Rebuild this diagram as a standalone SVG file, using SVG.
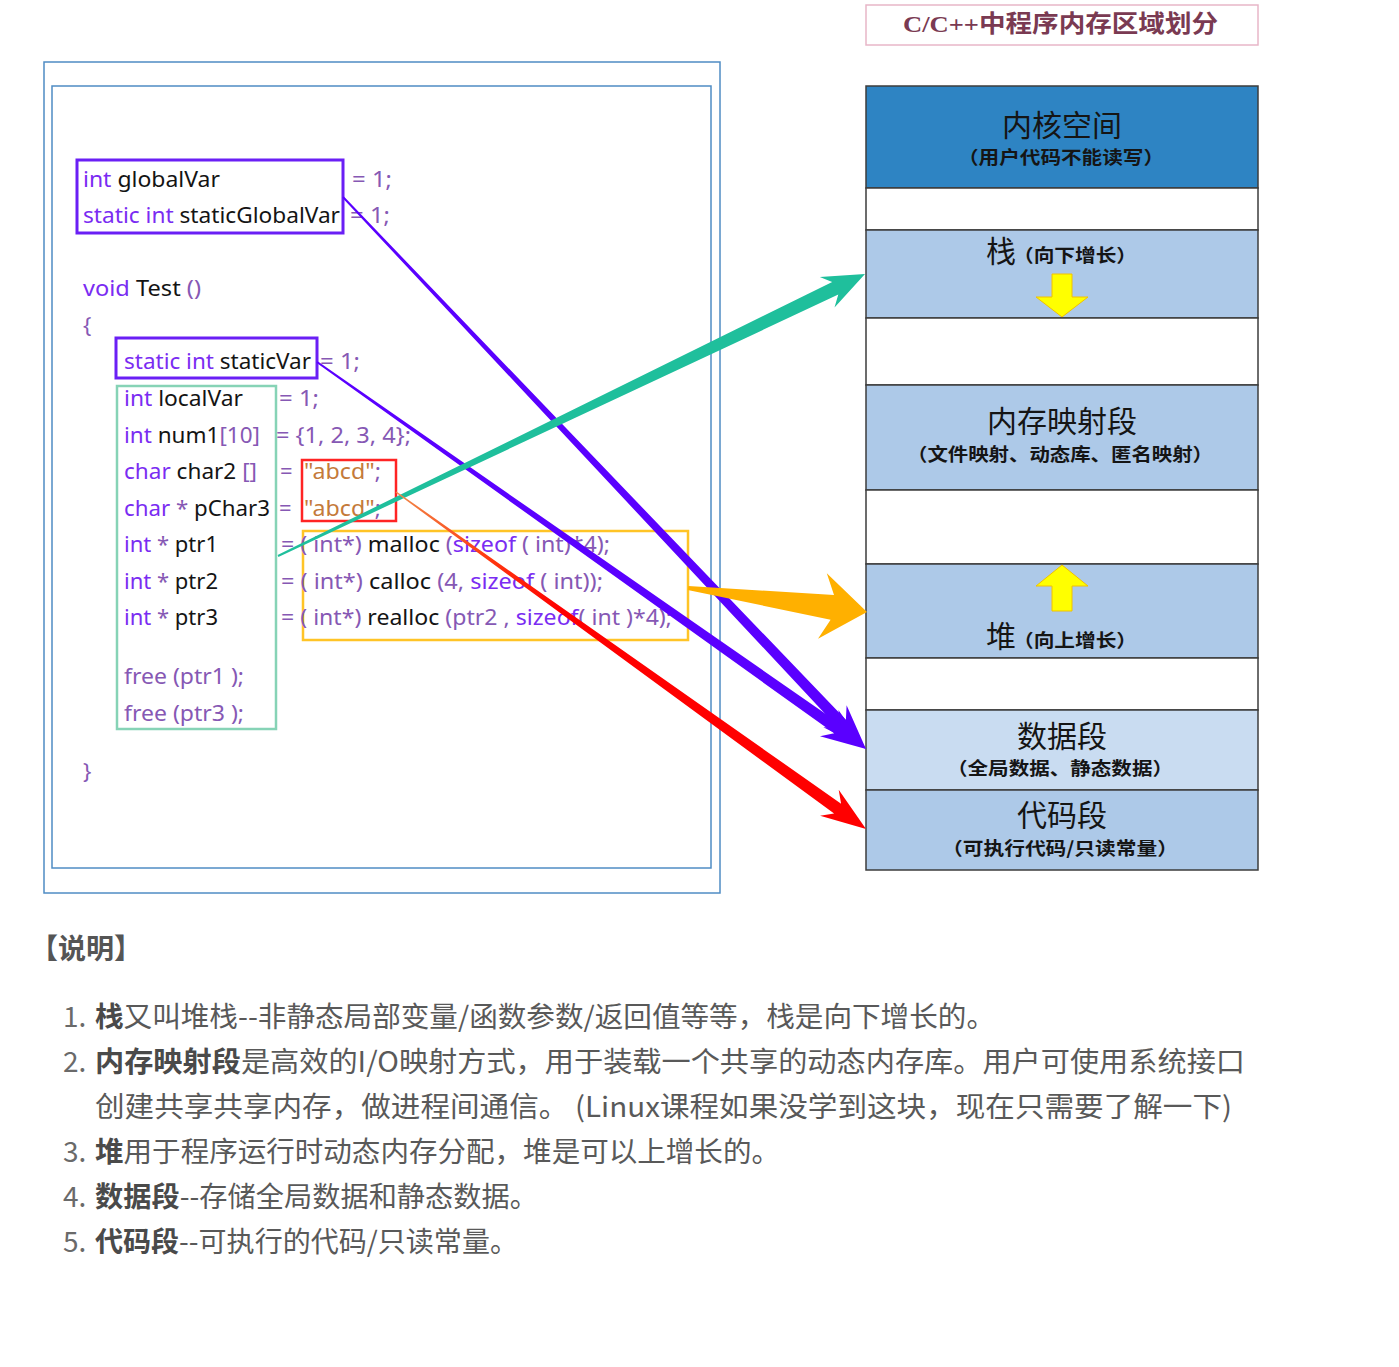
<svg xmlns="http://www.w3.org/2000/svg" width="1399" height="1367" viewBox="0 0 1399 1367">
<defs>
<style>
.frame{fill:none;stroke:#4f8cc4;stroke-width:1.5}
.code{font-family:"Noto Sans","Open Sans","Liberation Sans",sans-serif;font-size:22px;fill:#8658b4}
.kw{fill:#7a2cf2}
.id{fill:#141414}
.str{fill:#c47a3a}
.seg{stroke:#3d3d3d;stroke-width:1.5}
.big{font-family:"Noto Sans CJK SC","Noto Sans",sans-serif;font-size:30px;fill:#151515;text-anchor:middle}
.sub{font-family:"Noto Sans CJK SC","Noto Sans",sans-serif;font-size:18px;font-weight:bold;fill:#151515}
.note{font-family:"Noto Sans CJK SC","Noto Sans",sans-serif;font-size:28px;fill:#595959}
.num{fill:#6a6a6a}
.b{font-weight:bold;fill:#4a4a4a}
.yarrow{fill:#ffff00;stroke:#f2c200;stroke-width:1}
</style>
<linearGradient id="redgrad" gradientUnits="userSpaceOnUse" x1="396" y1="492" x2="560" y2="610">
<stop offset="0" stop-color="#f08a4a"/>
<stop offset="0.55" stop-color="#ff3a10"/>
<stop offset="1" stop-color="#ff0000"/>
</linearGradient>
</defs>
<rect width="1399" height="1367" fill="#ffffff"/>

<!-- title -->
<g id="title">
<rect x="866" y="5" width="392" height="40" fill="#ffffff" stroke="#e8b6c8" stroke-width="1.5"/>
<text x="903" y="32" textLength="315" lengthAdjust="spacingAndGlyphs" style="font-family:'Liberation Serif','Noto Sans CJK SC',serif;font-size:24px;font-weight:bold;fill:#7a3a52">C/C++中程序内存区域划分</text>
</g>

<!-- code frame -->
<g id="code-frame">
<rect class="frame" x="44" y="62" width="676" height="831"/>
<rect class="frame" x="52" y="86" width="659" height="782"/>
</g>

<g id="code-boxes">
<rect x="77" y="160" width="266" height="73" fill="none" stroke="#6a1ff5" stroke-width="3"/>
<rect x="116" y="338" width="201" height="40" fill="none" stroke="#6a1ff5" stroke-width="3"/>
<rect x="117" y="386" width="159" height="343" fill="none" stroke="#86d3b6" stroke-width="2.5"/>
<rect x="302" y="460" width="94" height="61" fill="none" stroke="#ff2424" stroke-width="2.5"/>
<rect x="303" y="531" width="385" height="109" fill="none" stroke="#ffc426" stroke-width="2.5"/>
</g>

<g id="code-text" class="code">
<text x="83" y="187" textLength="137" lengthAdjust="spacingAndGlyphs"><tspan class="kw">int</tspan> <tspan class="id">globalVar</tspan></text>
<text x="83" y="223" textLength="257" lengthAdjust="spacingAndGlyphs"><tspan class="kw">static int</tspan> <tspan class="id">staticGlobalVar</tspan></text>
<text x="352" y="187" textLength="40" lengthAdjust="spacingAndGlyphs">= 1;</text>
<text x="350" y="223" textLength="40" lengthAdjust="spacingAndGlyphs">= 1;</text>
<text x="83" y="296" textLength="118" lengthAdjust="spacingAndGlyphs"><tspan class="kw">void</tspan> <tspan class="id">Test</tspan> ()</text>
<text x="83" y="333">{</text>
<text x="124" y="369" textLength="187" lengthAdjust="spacingAndGlyphs"><tspan class="kw">static int</tspan> <tspan class="id">staticVar</tspan></text>
<text x="320" y="369" textLength="40" lengthAdjust="spacingAndGlyphs">= 1;</text>
<text x="124" y="406" textLength="119" lengthAdjust="spacingAndGlyphs"><tspan class="kw">int</tspan> <tspan class="id">localVar</tspan></text>
<text x="279" y="406" textLength="40" lengthAdjust="spacingAndGlyphs">= 1;</text>
<text x="124" y="443" textLength="136" lengthAdjust="spacingAndGlyphs"><tspan class="kw">int</tspan> <tspan class="id">num1</tspan>[10]</text>
<text x="276" y="443" textLength="135" lengthAdjust="spacingAndGlyphs">= {1, 2, 3, 4};</text>
<text x="124" y="479" textLength="133" lengthAdjust="spacingAndGlyphs"><tspan class="kw">char</tspan> <tspan class="id">char2</tspan> []</text>
<text x="280" y="479">=</text>
<text x="304" y="479" textLength="77" lengthAdjust="spacingAndGlyphs"><tspan class="str">"abcd"</tspan>;</text>
<text x="124" y="516" textLength="146" lengthAdjust="spacingAndGlyphs"><tspan class="kw">char</tspan> * <tspan class="id">pChar3</tspan></text>
<text x="279" y="516">=</text>
<text x="304" y="516" textLength="77" lengthAdjust="spacingAndGlyphs"><tspan class="str">"abcd"</tspan>;</text>
<text x="124" y="552" textLength="94" lengthAdjust="spacingAndGlyphs"><tspan class="kw">int</tspan> * <tspan class="id">ptr1</tspan></text>
<text x="281" y="552" textLength="329" lengthAdjust="spacingAndGlyphs">= ( int*) <tspan class="id">malloc</tspan> (<tspan class="kw">sizeof</tspan> ( int)*4);</text>
<text x="124" y="589" textLength="94" lengthAdjust="spacingAndGlyphs"><tspan class="kw">int</tspan> * <tspan class="id">ptr2</tspan></text>
<text x="281" y="589" textLength="322" lengthAdjust="spacingAndGlyphs">= ( int*) <tspan class="id">calloc</tspan> (4, <tspan class="kw">sizeof</tspan> ( int));</text>
<text x="124" y="625" textLength="94" lengthAdjust="spacingAndGlyphs"><tspan class="kw">int</tspan> * <tspan class="id">ptr3</tspan></text>
<text x="281" y="625" textLength="391" lengthAdjust="spacingAndGlyphs">= ( int*) <tspan class="id">realloc</tspan> (ptr2 , <tspan class="kw">sizeof</tspan>( int )*4);</text>
<text x="124" y="684" textLength="120" lengthAdjust="spacingAndGlyphs">free (ptr1 );</text>
<text x="124" y="721" textLength="120" lengthAdjust="spacingAndGlyphs">free (ptr3 );</text>
<text x="83" y="779">}</text>
</g>

<!-- memory layout column -->
<g id="seg-kernel">
<rect class="seg" x="866" y="86" width="392" height="102" fill="#2e84c3"/>
<text class="big" x="1062" y="136">内核空间</text>
<text class="sub" x="958" y="164" textLength="206" lengthAdjust="spacingAndGlyphs">（用户代码不能读写）</text>
</g>
<g id="gap1"><rect class="seg" x="866" y="188" width="392" height="42" fill="#ffffff"/></g>
<g id="seg-stack">
<rect class="seg" x="866" y="230" width="392" height="88" fill="#adc9e8"/>
<text class="big" x="1001" y="262">栈</text>
<text class="sub" x="1013" y="262" textLength="124" lengthAdjust="spacingAndGlyphs">（向下增长）</text>
<polygon class="yarrow" points="1052,274 1072,274 1072,297 1088,297 1062,317 1036,297 1052,297"/>
</g>
<g id="gap2"><rect class="seg" x="866" y="318" width="392" height="67" fill="#ffffff"/></g>
<g id="seg-mmap">
<rect class="seg" x="866" y="385" width="392" height="105" fill="#adc9e8"/>
<text class="big" x="1062" y="432">内存映射段</text>
<text class="sub" x="907" y="461" textLength="306" lengthAdjust="spacingAndGlyphs">（文件映射、动态库、匿名映射）</text>
</g>
<g id="gap3"><rect class="seg" x="866" y="490" width="392" height="74" fill="#ffffff"/></g>
<g id="seg-heap">
<rect class="seg" x="866" y="564" width="392" height="94" fill="#adc9e8"/>
<polygon class="yarrow" points="1062,565 1088,586 1072,586 1072,611 1052,611 1052,586 1036,586"/>
<text class="big" x="1001" y="647">堆</text>
<text class="sub" x="1013" y="647" textLength="124" lengthAdjust="spacingAndGlyphs">（向上增长）</text>
</g>
<g id="gap4"><rect class="seg" x="866" y="658" width="392" height="52" fill="#ffffff"/></g>
<g id="seg-data">
<rect class="seg" x="866" y="710" width="392" height="80" fill="#c9dcf1"/>
<text class="big" x="1062" y="747">数据段</text>
<text class="sub" x="947" y="775" textLength="226" lengthAdjust="spacingAndGlyphs">（全局数据、静态数据）</text>
</g>
<g id="seg-code">
<rect class="seg" x="866" y="790" width="392" height="80" fill="#adc9e8"/>
<text class="big" x="1062" y="826">代码段</text>
<text class="sub" x="942" y="855" textLength="236" lengthAdjust="spacingAndGlyphs">（可执行代码/只读常量）</text>
</g>

<!-- connectors -->
<g id="connectors">
<polygon fill="#5a00ff" points="343.7,196.3 845.9,719.8 846.6,705.3 866,749 823.4,727.3 837.9,727.4 342.3,197.7"/>
<polygon fill="#5a00ff" points="317.6,361.2 840.6,724.3 838.4,710.0 866,749 820.0,736.2 834.2,733.3 316.4,362.8"/>
<polygon fill="#1fbf9c" points="277.6,555.1 832.2,282.0 819.8,276.9 865,274 834.5,307.5 838.3,294.6 278.4,556.9"/>
<polygon fill="url(#redgrad)" points="396.4,491.4 841.1,803.7 838.7,789.8 866,829 820.1,815.8 834.1,813.5 395.6,492.6"/>
<polygon fill="#ffb000" points="688.3,586.0 834.0,595.0 826.8,573.3 867,612 818.0,638.7 830.6,619.7 687.7,590.0"/>
</g>

<!-- notes -->
<g id="notes" class="note">
<text x="30" y="959" class="b" style="fill:#555555">【说明】</text>
<text x="63" y="1027" class="num">1.</text>
<text x="95" y="1027" textLength="900" lengthAdjust="spacingAndGlyphs"><tspan class="b">栈</tspan>又叫堆栈--非静态局部变量/函数参数/返回值等等，栈是向下增长的。</text>
<text x="63" y="1072" class="num">2.</text>
<text x="95" y="1072" textLength="1150" lengthAdjust="spacingAndGlyphs"><tspan class="b">内存映射段</tspan>是高效的I/O映射方式，用于装载一个共享的动态内存库。用户可使用系统接口</text>
<text x="95" y="1117" textLength="1137" lengthAdjust="spacingAndGlyphs">创建共享共享内存，做进程间通信。 (Linux课程如果没学到这块，现在只需要了解一下)</text>
<text x="63" y="1162" class="num">3.</text>
<text x="95" y="1162" textLength="685" lengthAdjust="spacingAndGlyphs"><tspan class="b">堆</tspan>用于程序运行时动态内存分配，堆是可以上增长的。</text>
<text x="63" y="1207" class="num">4.</text>
<text x="95" y="1207" textLength="443" lengthAdjust="spacingAndGlyphs"><tspan class="b">数据段</tspan>--存储全局数据和静态数据。</text>
<text x="63" y="1252" class="num">5.</text>
<text x="95" y="1252" textLength="423" lengthAdjust="spacingAndGlyphs"><tspan class="b">代码段</tspan>--可执行的代码/只读常量。</text>
</g>
</svg>
